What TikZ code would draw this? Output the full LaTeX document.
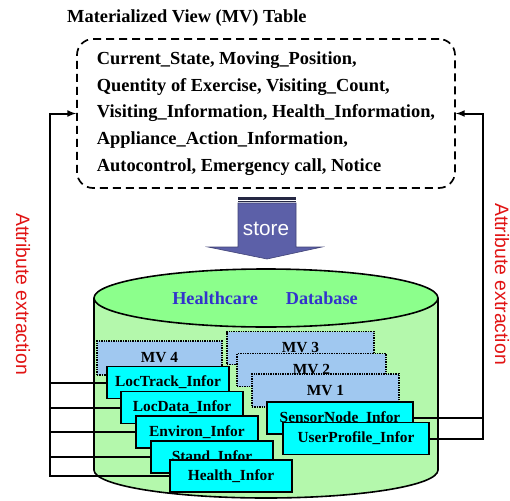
\documentclass[tikz,border=0pt]{standalone}
\usepackage{fontspec}
\setmainfont{Liberation Serif}
\newfontfamily\arialfont{Liberation Sans}
\definecolor{DbTop}{RGB}{140,255,140}
\definecolor{DbBody}{RGB}{180,248,172}
\definecolor{MvBlue}{RGB}{160,200,240}
\definecolor{InfoCyan}{RGB}{0,255,255}
\definecolor{StoreBlue}{RGB}{92,96,168}
\definecolor{LabelBlue}{RGB}{51,51,204}
\definecolor{ExtractRed}{RGB}{225,20,20}

\begin{document}
\begin{tikzpicture}[x=1pt,y=-1pt]
    \tikzset{ info/.style={draw=black, line width=1.8pt, fill=InfoCyan, minimum width=122pt, minimum height=32pt, inner sep=1pt, font=\fontsize{15.4}{18}\selectfont\bfseries} }
    \tikzset{ mv/.style  ={draw=black, densely dotted, line width=1.4pt, fill=MvBlue, minimum width=147pt, minimum height=33pt, inner sep=1pt, font=\fontsize{15.4}{18}\selectfont\bfseries} }
    \tikzset{ tbl/.style ={draw=black, dash pattern=on 8pt off 5pt, line width=1.7pt, rounded corners=16pt, minimum width=378pt, minimum height=149pt, align=left, font=\fontsize{18.4}{26.7}\selectfont\bfseries} }
    \tikzset{ conn/.style={draw=black, line width=2pt} }
    \tikzset{ extr/.style={text=ExtractRed, rotate=-90, font=\arialfont\fontsize{19.4}{22}\selectfont} }

    \useasboundingbox (0,0) rectangle (510,500);

    % database cylinder
    \draw[line width=1.6pt, fill=DbBody] (94,298) -- (94,470) arc[start angle=180, end angle=0, x radius=172, y radius=28] -- (438,298);
    \draw[line width=1.6pt, fill=DbTop] (266,298) ellipse[x radius=172, y radius=29];
    \node[text=LabelBlue, font=\fontsize{18.2}{22}\selectfont\bfseries] (dbname) at (265,298) {Healthcare\hspace{28pt}Database};

    % MV table
    \node[anchor=base west, inner sep=0pt, font=\fontsize{18.4}{22}\selectfont\bfseries] (title) at (67,23) {Materialized View (MV) Table};
    \node[tbl] (mvtable) at (266,113.5) {Current\_State, Moving\_Position,\\
        Quentity of Exercise, Visiting\_Count,\\
        Visiting\_Information, Health\_Information,\\
        Appliance\_Action\_Information,\\
        Autocontrol, Emergency call, Notice};

    % store arrow
    \fill[StoreBlue!40!black] (238,196.5) rectangle (296,199.5);
    \fill[StoreBlue!40!black] (238,201) rectangle (296,202);
    \draw[StoreBlue!70!black, fill=StoreBlue, line width=0.6pt] (238,203) -- (296,203) -- (296,247) -- (322,247) -- (267,259) -- (208,247) -- (238,247) -- cycle;
    \node[text=white, anchor=base, font=\arialfont\fontsize{20.7}{24}\selectfont] (store) at (266,235) {store};

    % materialized views
    \node[mv, minimum width=125pt, minimum height=34pt] (mv4) at (159.5,358) {MV 4};
    \node[mv]                      (mv3) at (300.5,348)   {MV 3};
    \node[mv, minimum width=149pt] (mv2) at (311.5,370)   {MV 2};
    \node[mv]                      (mv1) at (325.5,390.5) {MV 1};

    % info tables
    \node[info] (loctrack) at (168,382.5) {LocTrack\_Infor};
    \node[info] (locdata)  at (182,407.5) {LocData\_Infor};
    \node[info] (environ)  at (197,432)   {Environ\_Infor};
    \node[info] (stand)    at (212,457)   {Stand\_Infor};
    \node[info] (health)   at (231,476)   {Health\_Infor};
    \node[info, minimum width=146pt] (sensor)   at (340,418)   {SensorNode\_Infor};
    \node[info, minimum width=146pt] (userprof) at (356,438.5) {UserProfile\_Infor};

    % attribute extraction
    \coordinate (lbus) at (50,0);
    \coordinate (rbus) at (483,0);
    \draw[conn, ->, >=latex] (health.west) -| (lbus |- mvtable.west) -- (mvtable.west);
    \foreach \t in {loctrack, locdata, environ, stand}
        \draw[conn] (\t.west) -- (\t.west -| lbus);
    \draw[conn, ->, >=latex] (userprof.east) -| (rbus |- mvtable.east) -- (mvtable.east);
    \draw[conn] (sensor.east) -- (sensor.east -| rbus);

    \node[extr] (extrl) at (23,294)  {Attribute extraction};
    \node[extr] (extrr) at (502,284) {Attribute extraction};
\end{tikzpicture}
\end{document}
